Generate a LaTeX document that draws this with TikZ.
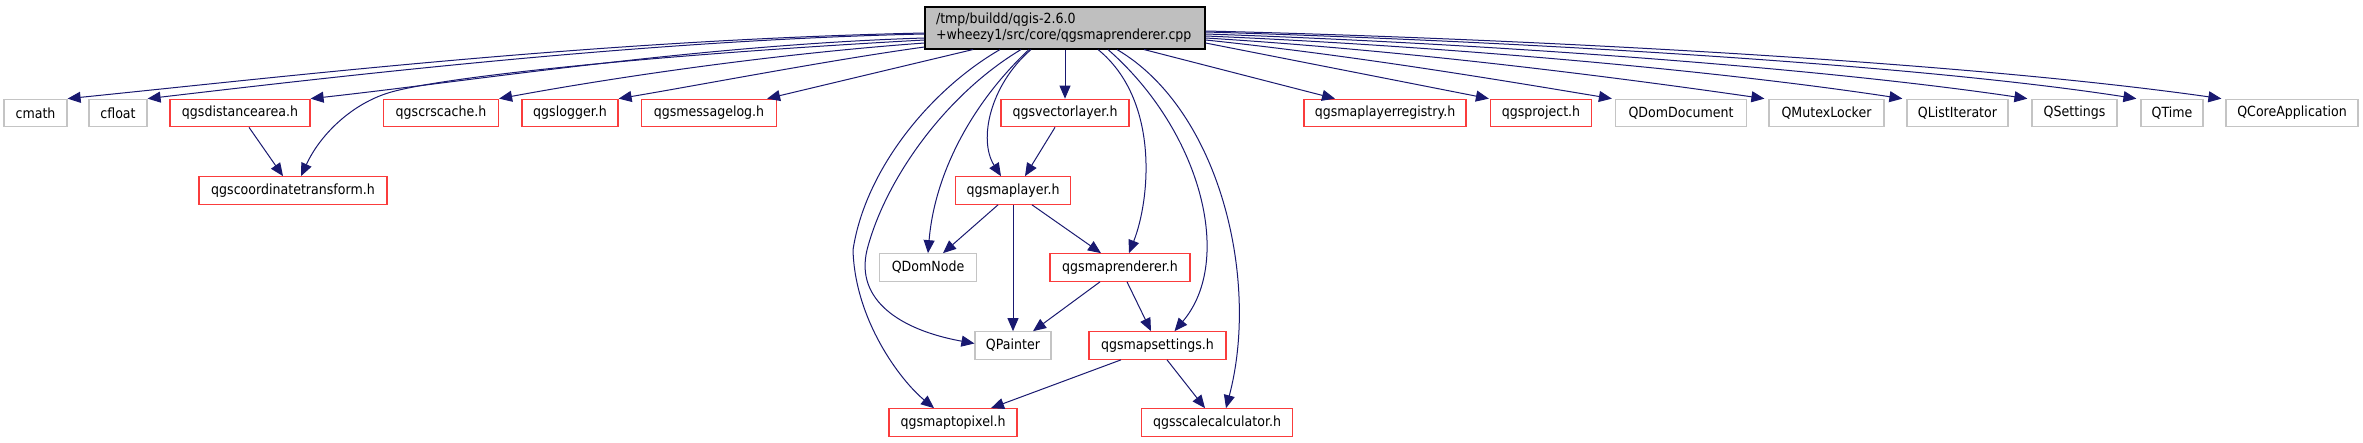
\documentclass[tikz,border=0pt]{standalone}
\usepackage{fontspec}
\setmainfont{DejaVu Sans}[FakeStretch=0.9]
\usetikzlibrary{arrows.meta}
\definecolor{navy}{RGB}{25,25,112}
\definecolor{redb}{RGB}{250,60,60}
\definecolor{greyb}{RGB}{196,196,196}
\definecolor{maingrey}{RGB}{191,191,191}
\tikzset{
  box/.style={draw, line width=1.2pt, minimum height=27.5pt, inner sep=0pt, font=\fontsize{14}{16}\selectfont, text=black},
  doc/.style={box, draw=redb},
  ext/.style={box, draw=greyb},
  dep/.style={draw=navy, line width=1pt, -{Triangle[length=13pt,width=11pt]}}
}
\begin{document}
\begin{tikzpicture}[x=1pt,y=-1pt]
\useasboundingbox[fill=white] (0,0) rectangle (2363,443);
% main node
\node[draw=black, fill=maingrey, line width=1.1pt, minimum width=280pt, minimum height=42pt,
      inner xsep=11pt, inner ysep=0pt, text width=258pt, align=left,
      font=\fontsize{14}{16}\selectfont] (main) at (1065,28)
      {/tmp/buildd/qgis-2.6.0\\+wheezy1/src/core/qgsmaprenderer.cpp};
% row 1
\node[ext, minimum width=63pt]  (cmath)   at (35.5,113) {cmath};
\node[ext, minimum width=58pt]  (cfloat)  at (118,113) {cfloat};
\node[doc, minimum width=140pt] (distarea) at (240,113) {qgsdistancearea.h};
\node[doc, minimum width=115pt] (crscache) at (441,113) {qgscrscache.h};
\node[doc, minimum width=96pt]  (logger)  at (570,113) {qgslogger.h};
\node[doc, minimum width=135pt] (msglog)  at (709,113) {qgsmessagelog.h};
\node[doc, minimum width=128pt] (veclayer) at (1065,113) {qgsvectorlayer.h};
\node[doc, minimum width=162pt] (registry) at (1385,113) {qgsmaplayerregistry.h};
\node[doc, minimum width=101pt] (project) at (1541,113) {qgsproject.h};
\node[ext, minimum width=131pt] (domdoc)  at (1681,113) {QDomDocument};
\node[ext, minimum width=115pt] (mutex)   at (1826.5,113) {QMutexLocker};
\node[ext, minimum width=101pt] (listit)  at (1957.5,113) {QListIterator};
\node[ext, minimum width=85pt]  (settings) at (2074.5,113) {QSettings};
\node[ext, minimum width=62pt]  (qtime)   at (2172,113) {QTime};
\node[ext, minimum width=132pt] (coreapp) at (2292,113) {QCoreApplication};
% row 2
\node[doc, minimum width=188pt] (coordt)  at (293,190.5) {qgscoordinatetransform.h};
\node[doc, minimum width=115.5pt] (maplayer) at (1013,190.5) {qgsmaplayer.h};
% row 3
\node[ext, minimum width=97.5pt] (domnode) at (928,267.5) {QDomNode};
\node[doc, minimum width=140pt] (renderer) at (1120,267.5) {qgsmaprenderer.h};
% row 4
\node[ext, minimum width=76pt]  (painter) at (1013,345.5) {QPainter};
\node[doc, minimum width=137pt] (mapset)  at (1157.5,345.5) {qgsmapsettings.h};
% row 5
\node[doc, minimum width=128pt] (topixel) at (953,422.5) {qgsmaptopixel.h};
\node[doc, minimum width=151.5pt] (scalecalc) at (1217,422.5) {qgsscalecalculator.h};

% edges from main, left side
\draw[dep] ([yshift=-5pt]main.west) .. controls (600,40) and (300,75) .. (cmath.north east);
\draw[dep] ([yshift=-6pt]main.west) .. controls (650,40) and (350,75) .. (cfloat.north east);
\draw[dep] ([yshift=-10pt]main.west) .. controls (700,45) and (480,80) .. (distarea.north east);
\draw[dep] ([yshift=-12pt]main.west) .. controls (650,55) and (430,78) .. (385,94)
           .. controls (350,106) and (320,135) .. ([xshift=8pt]coordt.north);
\draw[dep] ([yshift=-15pt]main.west) .. controls (760,55) and (600,80) .. (crscache.north east);
\draw[dep] ([yshift=-19pt]main.west) .. controls (830,60) and (700,85) .. (logger.north east);
\draw[dep] ([xshift=-92pt]main.south) -- ([xshift=-10pt]msglog.north east);
% edges from main, right side
\draw[dep] ([xshift=79pt]main.south) -- ([xshift=-50pt]registry.north);
\draw[dep] ([yshift=-15pt]main.east) -- ([xshift=-1pt]project.north west);
\draw[dep] ([yshift=-12pt]main.east) .. controls (1350,55) and (1500,80) .. ([xshift=-3pt]domdoc.north west);
\draw[dep] ([yshift=-10pt]main.east) .. controls (1400,50) and (1600,75) .. ([xshift=-4pt]mutex.north west);
\draw[dep] ([yshift=-8pt]main.east) .. controls (1420,45) and (1700,68) .. ([xshift=-4pt]listit.north west);
\draw[dep] ([yshift=-6pt]main.east) .. controls (1450,42) and (1800,65) .. ([xshift=-4pt]settings.north west);
\draw[dep] ([yshift=-4pt]main.east) .. controls (1480,40) and (1900,62) .. ([xshift=-4pt]qtime.north west);
\draw[dep] ([yshift=-3pt]main.east) .. controls (1500,38) and (1950,60) .. ([xshift=-4pt]coreapp.north west);
% edges from main, bottom
\draw[dep] ([xshift=-65pt]main.south) .. controls (930,90) and (865,170) .. (853,250)
           .. controls (855,320) and (900,380) .. ([xshift=-19pt]topixel.north);
\draw[dep] ([xshift=-44pt]main.south) .. controls (945,95) and (885,180) .. (867,250)
           .. controls (855,300) and (900,330) .. ([yshift=2pt]painter.west);
\draw[dep] ([xshift=-36pt]main.south) .. controls (975,100) and (935,170) .. (domnode.north);
\draw[dep] ([xshift=-34pt]main.south) .. controls (990,85) and (978,140) .. ([xshift=-12pt]maplayer.north);
\draw[dep] (main.south) -- (veclayer.north);
\draw[dep] ([xshift=33pt]main.south) .. controls (1160,100) and (1150,200) .. ([xshift=9pt]renderer.north);
\draw[dep] ([xshift=43pt]main.south) .. controls (1200,130) and (1235,260) .. ([xshift=17pt]mapset.north);
\draw[dep] ([xshift=52pt]main.south) .. controls (1220,110) and (1260,280) .. ([xshift=9pt]scalecalc.north);
% other edges
\draw[dep] ([xshift=9pt]distarea.south) -- ([xshift=-10pt]coordt.north);
\draw[dep] ([xshift=-10pt]veclayer.south) -- ([xshift=12pt]maplayer.north);
\draw[dep] ([xshift=-15pt]maplayer.south) -- ([xshift=15pt]domnode.north);
\draw[dep] (maplayer.south) -- (painter.north);
\draw[dep] ([xshift=19pt]maplayer.south) -- ([xshift=-19pt]renderer.north);
\draw[dep] ([xshift=-20pt]renderer.south) -- ([xshift=20pt]painter.north);
\draw[dep] ([xshift=7pt]renderer.south) -- ([xshift=-6.5pt]mapset.north);
\draw[dep] ([xshift=-36.5pt]mapset.south) -- ([xshift=38pt]topixel.north);
\draw[dep] ([xshift=9.5pt]mapset.south) -- ([xshift=-12pt]scalecalc.north);
\end{tikzpicture}
\end{document}
